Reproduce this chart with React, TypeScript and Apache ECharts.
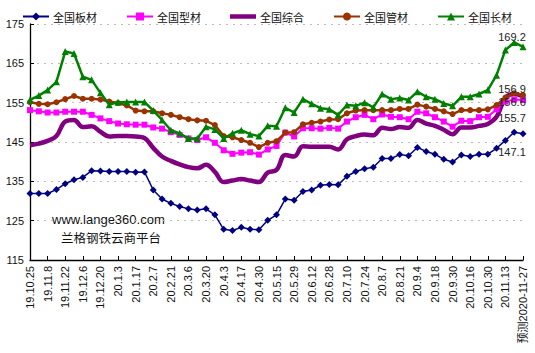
import React, { useEffect, useRef } from 'react';
import * as echarts from 'echarts';

const categories = [
  '19.10.25', '19.11.1', '19.11.8', '19.11.15', '19.11.22', '19.11.29', '19.12.6', '19.12.13',
  '19.12.20', '19.12.27', '20.1.3', '20.1.10', '20.1.17', '20.1.23', '20.2.7', '20.2.14',
  '20.2.21', '20.2.28', '20.3.6', '20.3.13', '20.3.20', '20.3.27', '20.4.3', '20.4.10',
  '20.4.17', '20.4.24', '20.4.30', '20.5.8', '20.5.15', '20.5.22', '20.5.29', '20.6.5',
  '20.6.12', '20.6.19', '20.6.28', '20.7.3', '20.7.10', '20.7.17', '20.7.24', '20.7.31',
  '20.8.7', '20.8.14', '20.8.21', '20.8.28', '20.9.4', '20.9.11', '20.9.18', '20.9.25',
  '20.9.30', '20.10.9', '20.10.16', '20.10.23', '20.10.30', '20.11.6', '20.11.13', '20.11.20',
  '预测2020-11-27',
];

const plate = [
  131.9, 131.9, 131.9, 132.9, 134.4, 135.4, 136.0, 137.7, 137.6, 137.5, 137.5, 137.5, 137.3, 137.4,
  132.8, 130.5, 129.4, 128.6, 128.0, 127.7, 128.0, 126.5, 122.8, 122.5, 123.3, 122.8, 122.7, 125.1,
  126.5, 130.5, 130.2, 132.4, 132.8, 134.0, 134.2, 134.1, 136.3, 137.5, 138.2, 138.6, 140.8, 140.8,
  141.8, 141.5, 143.6, 142.6, 141.9, 140.6, 139.9, 141.7, 141.3, 141.9, 141.9, 143.4, 145.4, 147.5,
  147.1,
];

const section = [
  153.1, 152.8, 152.5, 152.5, 152.7, 152.7, 152.7, 151.9, 151.0, 150.3, 149.7, 149.5, 149.4, 149.4,
  148.7, 148.4, 147.5, 146.8, 145.9, 145.5, 146.2, 144.8, 142.9, 142.0, 142.3, 142.4, 141.8, 143.1,
  144.0, 147.4, 146.4, 148.5, 148.5, 148.4, 148.6, 148.4, 150.2, 151.3, 151.9, 150.8, 152.0, 151.4,
  151.3, 150.8, 152.7, 152.3, 151.3, 150.2, 148.9, 150.4, 150.3, 151.3, 151.4, 153.3, 155.3, 155.8,
  155.7,
];

const composite = [
  144.2, 144.6, 145.3, 146.5, 150.2, 150.6, 148.8, 149.0, 147.6, 146.4, 146.5, 146.5, 146.4, 146.0,
  143.5, 141.3, 140.2, 139.3, 138.6, 138.3, 139.2, 137.4, 134.8, 135.2, 135.6, 135.2, 134.8, 137.2,
  137.9, 141.7, 141.3, 143.9, 143.8, 143.8, 143.8, 143.1, 145.7, 146.5, 146.9, 146.7, 148.6, 148.3,
  148.8, 148.6, 150.6, 149.7, 149.1, 148.1, 147.0, 148.7, 148.7, 149.1, 149.6, 151.4, 156.2, 157.2,
  156.6,
];

const pipe = [
  155.1, 154.7, 154.6, 155.1, 155.9, 156.7, 156.0, 156.0, 155.8, 155.3, 154.9, 154.3, 153.0, 152.8,
  152.8, 152.3, 151.9, 151.3, 150.8, 150.5, 150.4, 149.3, 146.5, 146.2, 145.5, 144.8, 143.7, 144.8,
  145.2, 147.4, 147.5, 149.5, 149.9, 150.2, 150.7, 150.8, 152.3, 153.0, 153.1, 153.1, 153.1, 153.1,
  153.4, 153.4, 154.5, 154.0, 153.4, 152.8, 152.1, 153.1, 153.1, 153.1, 153.3, 154.4, 156.3, 157.4,
  156.9,
];

const longProd = [
  155.7, 156.8, 158.2, 160.3, 168.0, 167.5, 161.6, 160.8, 157.5, 154.5, 155.1, 155.2, 155.2, 155.2,
  153.0, 150.6, 148.0, 147.2, 145.9, 145.9, 148.9, 148.2, 145.9, 147.2, 148.0, 147.0, 146.5, 149.1,
  149.0, 153.7, 152.5, 155.9, 154.7, 153.6, 153.3, 151.9, 154.4, 154.2, 155.0, 153.8, 157.2, 155.9,
  156.2, 155.7, 157.8, 156.5, 155.9, 154.8, 154.2, 156.5, 156.5, 157.2, 158.2, 162.0, 168.4, 170.3,
  169.2,
];

const seriesNames = ['全国板材', '全国型材', '全国综合', '全国管材', '全国长材'];
const yTicks = { min: 115, max: 175, interval: 10 };

const FONT = '"Liberation Sans", Arial, "Noto Sans CJK SC", sans-serif';
const LABEL_FONT = '"Liberation Sans Narrow", "Arial Narrow", "Liberation Sans", Arial, sans-serif';

function endMark(values: number[], offset: number[]) {
  const last = values.length - 1;
  return {
    symbol: 'rect',
    symbolSize: 1,
    silent: true,
    itemStyle: { color: 'rgba(0,0,0,0)' },
    label: {
      show: true,
      position: 'inside',
      offset,
      color: '#222',
      fontSize: 11,
      fontFamily: LABEL_FONT,
      formatter: (p: any) => Number(p.value).toFixed(1),
    },
    data: [{ coord: [categories[last], values[last]], value: values[last] }],
  };
}

export default function App() {
  const ref = useRef<HTMLDivElement>(null);
  useEffect(() => {
    if (!ref.current) return;
    const chart = echarts.init(ref.current, null, { renderer: 'svg' });
    const option: any = {
      animation: false,
      textStyle: { fontFamily: FONT },
      legend: {
        data: [
          { name: seriesNames[0] },
          { name: seriesNames[1] },
          { name: seriesNames[2], icon: 'path://M0,0 L26,0 L26,4.5 L0,4.5 Z' },
          { name: seriesNames[3] },
          { name: seriesNames[4] },
        ],
        top: 6,
        left: 17,
        itemGap: 29,
        itemWidth: 26,
        itemHeight: 10,
        symbolKeepAspect: true,
        textStyle: { fontSize: 11, color: '#111', fontFamily: '"Noto Sans CJK SC", sans-serif', padding: [0, 0, 0, -1] },
      },
      grid: { left: 30, right: 12, top: 24, bottom: 93, containLabel: false },
      xAxis: {
        type: 'category',
        data: categories,
        boundaryGap: false,
        axisLine: { lineStyle: { color: '#000', width: 1.3 } },
        axisTick: { show: true, inside: true, length: 4, interval: 1, lineStyle: { color: '#000' } },
        axisLabel: {
          interval: 1,
          rotate: 90,
          fontSize: 11,
          color: '#111',
          margin: 6,
          fontFamily: '"Liberation Sans", Arial, "Noto Sans CJK SC", sans-serif',
        },
        splitLine: { show: false },
      },
      yAxis: {
        type: 'value',
        min: yTicks.min,
        max: yTicks.max,
        interval: yTicks.interval,
        axisLine: { show: true, lineStyle: { color: '#000', width: 1.3 } },
        axisTick: { show: true, inside: true, length: 4, lineStyle: { color: '#000' } },
        axisLabel: { fontSize: 11, color: '#111', margin: 6 },
        splitLine: { show: true, lineStyle: { color: '#bdbdbd', type: [2, 5], width: 1.2 } },
      },
      graphic: [
        {
          type: 'text',
          left: 52,
          top: 213,
          style: { text: 'www.lange360.com', fontSize: 13, fill: '#111', fontFamily: FONT },
        },
        {
          type: 'text',
          left: 61,
          top: 231,
          style: { text: '兰格钢铁云商平台', fontSize: 12.5, fill: '#111', fontFamily: '"Noto Sans CJK SC", sans-serif' },
        },
      ],
      series: [
        {
          name: seriesNames[0],
          type: 'line',
          data: plate,
          symbol: 'diamond',
          symbolSize: 7,
          showAllSymbol: true,
          color: '#000080',
          lineStyle: { width: 1.5, color: '#000080' },
          itemStyle: { color: '#000080' },
          z: 3,
          markPoint: endMark(plate, [-11, 18]),
        },
        {
          name: seriesNames[1],
          type: 'line',
          data: section,
          symbol: 'rect',
          symbolSize: 6,
          showAllSymbol: true,
          color: '#ff00ff',
          lineStyle: { width: 2, color: '#ff00ff' },
          itemStyle: { color: '#ff00ff' },
          z: 3,
          markPoint: endMark(section, [-11, 18]),
        },
        {
          name: seriesNames[2],
          type: 'line',
          data: composite,
          symbol: 'none',
          smooth: 0.4,
          color: '#800080',
          lineStyle: { width: 4.5, color: '#800080' },
          itemStyle: { color: '#800080' },
          z: 2,
          markPoint: endMark(composite, [-11, 6]),
        },
        {
          name: seriesNames[3],
          type: 'line',
          data: pipe,
          symbol: 'circle',
          symbolSize: 6,
          showAllSymbol: true,
          color: '#993300',
          lineStyle: { width: 2.5, color: '#993300' },
          itemStyle: { color: '#993300' },
          z: 4,
          markPoint: endMark(pipe, [-11, -6]),
        },
        {
          name: seriesNames[4],
          type: 'line',
          data: longProd,
          symbol: 'triangle',
          symbolSize: 7,
          showAllSymbol: true,
          color: '#008000',
          lineStyle: { width: 2.5, color: '#008000' },
          itemStyle: { color: '#008000' },
          z: 5,
          markPoint: endMark(longProd, [-11, -10]),
        },
      ],
    };
    chart.setOption(option);
    return () => chart.dispose();
  }, []);
  return (
    <div
      ref={ref}
      style={{ position: 'fixed', left: 0, top: 0, width: 535, height: 353, background: '#fff' }}
    />
  );
}
